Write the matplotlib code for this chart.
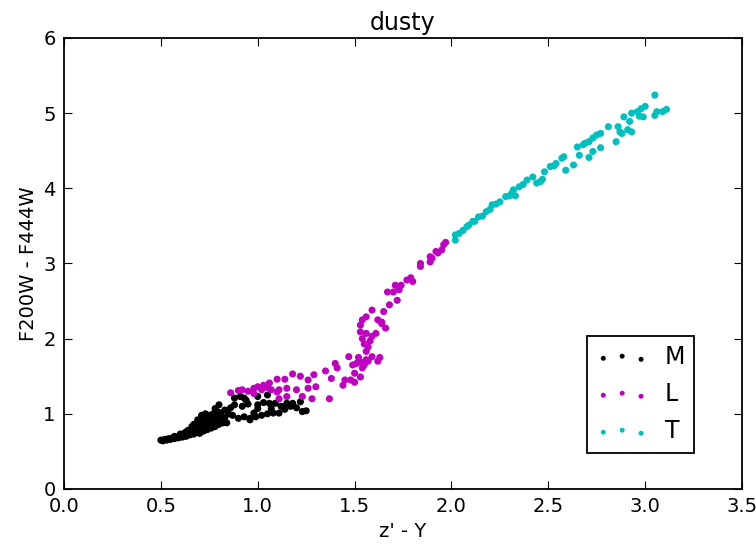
import matplotlib
matplotlib.use('Agg')
import matplotlib.pyplot as plt

# spectral type groups, colour z'-Y vs F200W-F444W
m_x = [0.50, 0.51, 0.52, 0.53, 0.54, 0.55, 0.56, 0.57, 0.58, 0.59, 0.60, 0.61, 0.62, 0.63,
       0.62, 0.64, 0.64, 0.65, 0.66, 0.66, 0.67, 0.68, 0.68, 0.69, 0.70, 0.70, 0.71, 0.72,
       0.72, 0.73, 0.74, 0.74, 0.75, 0.76, 0.76, 0.77, 0.78, 0.78, 0.79, 0.80, 0.80, 0.81,
       0.82, 0.83, 0.84, 0.78, 0.80, 0.83, 0.85, 0.88, 0.88, 0.91, 0.93, 0.94, 0.87, 0.90,
       0.93, 0.96, 0.98, 1.00, 1.00, 1.05, 1.00, 0.96, 0.99, 1.02, 1.05, 1.08, 1.11, 1.06,
       1.09, 1.12, 1.15, 1.18, 1.20, 1.22, 1.23, 1.25, 1.14, 1.17, 0.71, 0.73, 0.69, 0.60,
       0.57, 0.65, 0.86, 0.92, 0.95, 1.03, 1.07, 0.67, 0.69, 0.71, 0.73, 0.75, 0.77, 0.79,
       0.63, 0.66, 0.74, 0.76, 0.81]
m_y = [0.65, 0.64, 0.66, 0.65, 0.67, 0.66, 0.68, 0.67, 0.69, 0.68, 0.70, 0.69, 0.71, 0.70,
       0.74, 0.73, 0.78, 0.72, 0.75, 0.80, 0.73, 0.76, 0.82, 0.78, 0.74, 0.84, 0.80, 0.77,
       0.88, 0.82, 0.79, 0.92, 0.85, 0.81, 0.95, 0.87, 0.83, 0.98, 0.90, 0.86, 1.02, 0.92,
       0.88, 0.95, 0.88, 1.07, 1.12, 1.05, 1.00, 1.12, 1.21, 1.23, 1.21, 1.18, 0.98, 0.94,
       0.96, 0.94, 1.01, 1.07, 1.23, 1.25, 1.12, 0.92, 0.96, 0.98, 1.00, 1.01, 1.01, 1.14,
       1.14, 1.10, 1.14, 1.14, 1.08, 1.16, 1.03, 1.04, 1.06, 1.10, 0.98, 1.00, 0.92, 0.73,
       0.70, 0.77, 1.08, 1.10, 1.13, 1.15, 1.07, 0.86, 0.88, 0.92, 0.95, 0.98, 1.00, 0.96,
       0.76, 0.83, 0.86, 0.90, 0.99]

l_x = [0.86, 0.90, 0.92, 0.95, 0.98, 0.98, 1.00, 1.02, 1.03, 1.05, 1.06, 1.07, 1.10, 1.10,
       1.11, 1.11, 1.14, 1.15, 1.15, 1.18, 1.20, 1.22, 1.23, 1.26, 1.26, 1.28, 1.29, 1.30,
       1.35, 1.37, 1.38, 1.40, 1.41, 1.44, 1.47, 1.49, 1.50, 1.48, 1.53, 1.53, 1.56, 1.59,
       1.54, 1.56, 1.57, 1.54, 1.56, 1.53, 1.59, 1.61, 1.53, 1.54, 1.56, 1.59, 1.62, 1.64,
       1.64, 1.66, 1.65, 1.68, 1.67, 1.70, 1.72, 1.73, 1.71, 1.74, 1.77, 1.79, 1.80, 1.84,
       1.84, 1.89, 1.90, 1.93, 1.95, 1.96, 1.97, 1.89, 1.92, 1.62, 1.63, 1.57, 1.51, 1.55,
       1.58, 1.55, 1.52, 1.45, 1.50]
l_y = [1.28, 1.31, 1.32, 1.30, 1.34, 1.27, 1.36, 1.32, 1.38, 1.35, 1.41, 1.32, 1.46, 1.29,
       1.20, 1.32, 1.46, 1.34, 1.23, 1.53, 1.32, 1.50, 1.23, 1.45, 1.34, 1.20, 1.52, 1.36,
       1.57, 1.20, 1.47, 1.67, 1.61, 1.38, 1.76, 1.65, 1.54, 1.45, 1.49, 1.69, 1.72, 1.76,
       1.61, 1.83, 1.89, 2.00, 2.07, 2.09, 2.03, 2.07, 2.18, 2.25, 2.29, 2.38, 2.25, 2.22,
       2.20, 2.14, 2.36, 2.45, 2.62, 2.62, 2.51, 2.65, 2.71, 2.71, 2.78, 2.81, 2.76, 2.96,
       3.00, 3.02, 3.07, 3.14, 3.18, 3.25, 3.28, 3.09, 3.16, 1.70, 1.75, 1.70, 1.67, 1.65,
       1.97, 1.93, 1.75, 1.45, 1.42]

t_x = [2.02, 2.02, 2.06, 2.08, 2.09, 2.11, 2.12, 2.14, 2.16, 2.18, 2.21, 2.23, 2.25, 2.28,
       2.30, 2.31, 2.32, 2.33, 2.35, 2.39, 2.42, 2.44, 2.46, 2.48, 2.51, 2.54, 2.57, 2.58,
       2.59, 2.63, 2.65, 2.66, 2.68, 2.69, 2.71, 2.73, 2.77, 2.71, 2.73, 2.75, 2.77, 2.81,
       2.85, 2.86, 2.87, 2.88, 2.89, 2.91, 2.92, 2.93, 2.93, 2.96, 2.98, 3.00, 2.99, 2.97,
       3.05, 3.05, 3.06, 3.09, 3.11, 2.04, 2.20, 2.37, 2.53, 2.47]
t_y = [3.31, 3.38, 3.44, 3.49, 3.51, 3.56, 3.56, 3.62, 3.63, 3.69, 3.78, 3.79, 3.82, 3.89,
       3.90, 3.93, 3.98, 3.90, 4.02, 4.11, 4.15, 4.07, 4.09, 4.22, 4.29, 4.33, 4.40, 4.42,
       4.24, 4.31, 4.55, 4.44, 4.58, 4.60, 4.62, 4.49, 4.54, 4.41, 4.67, 4.71, 4.73, 4.82,
       4.62, 4.82, 4.75, 4.73, 4.95, 4.78, 4.89, 4.75, 5.00, 5.02, 5.06, 5.09, 4.95, 4.96,
       5.24, 4.97, 5.02, 5.02, 5.05, 3.40, 3.72, 4.05, 4.30, 4.12]


fig = plt.figure(figsize=(7.56, 5.48), dpi=100)
ax = fig.add_axes([0.0847, 0.1077, 0.8968, 0.823])

ax.scatter(m_x, m_y, s=26, c='k', edgecolors='none', label='M')
ax.scatter(l_x, l_y, s=26, c='#bf00bf', edgecolors='none', label='L')
ax.scatter(t_x, t_y, s=26, c='#00bfbf', edgecolors='none', label='T')

ax.set_xlim(0, 3.5)
ax.set_ylim(0, 6)
ax.set_xlabel("z' - Y", fontsize=14)
ax.set_ylabel('F200W - F444W', fontsize=14)
ax.set_title('dusty', fontsize=17)
ax.tick_params(direction='in', top=True, right=True, length=6, labelsize=14, pad=6)
for sp in ax.spines.values():
    sp.set_linewidth(1.3)

leg = ax.legend(loc='lower left', bbox_to_anchor=(0.771, 0.08), borderaxespad=0,
                scatterpoints=3, markerscale=0.7, fontsize=17, fancybox=False,
                edgecolor='k', framealpha=1, labelspacing=0.55, handletextpad=0.7,
                handlelength=2.2)
leg.get_frame().set_linewidth(1.3)

fig.savefig('out.png', dpi=100)
